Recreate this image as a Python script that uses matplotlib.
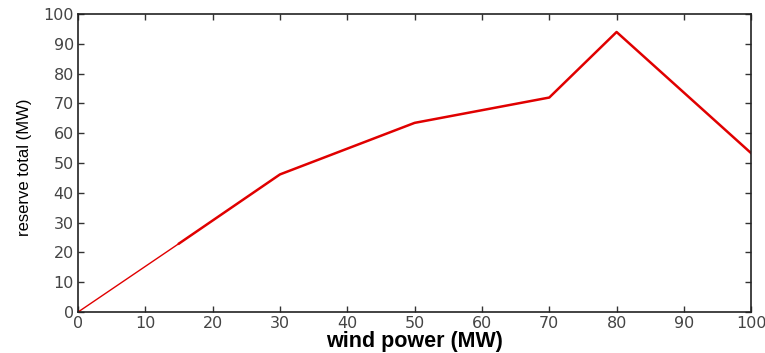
import matplotlib
matplotlib.use("Agg")
import matplotlib.pyplot as plt

# data
wind_power = [0, 15, 30, 50, 70, 80, 100]
reserve_total = [0, 23, 46.2, 63.5, 72, 94, 53.3]

x_ticks = list(range(0, 101, 10))
y_ticks = list(range(0, 101, 10))

plt.rcParams['font.family'] = ['DejaVu Sans']

fig = plt.figure(figsize=(7.65, 3.53), dpi=100)
ax = fig.add_axes([0.102, 0.116, 0.880, 0.844])

# first segment drawn thinner, like the original
ax.plot(wind_power[:2], reserve_total[:2], color='#e00000', lw=1.0)
ax.plot(wind_power[1:], reserve_total[1:], color='#e00000', lw=1.8)

ax.set_xlim(0, 100)
ax.set_ylim(0, 100)
ax.set_xticks(x_ticks)
ax.set_yticks(y_ticks)
ax.tick_params(direction='in', top=True, right=True, length=4, width=1,
               labelsize=11.5, labelcolor='#444444', color='#333333', pad=3)
for s in ax.spines.values():
    s.set_linewidth(1.2)
    s.set_color('#222222')

ax.set_xlabel("wind power (MW)", fontsize=15.5, fontweight='bold', labelpad=0,
              family=['Liberation Sans', 'DejaVu Sans'])
ax.set_ylabel("reserve total (MW)", fontsize=12, labelpad=2,
              family=['Liberation Sans', 'DejaVu Sans'])
ax.yaxis.set_label_coords(-0.068, 0.485)

fig.savefig("out.png", dpi=100)
